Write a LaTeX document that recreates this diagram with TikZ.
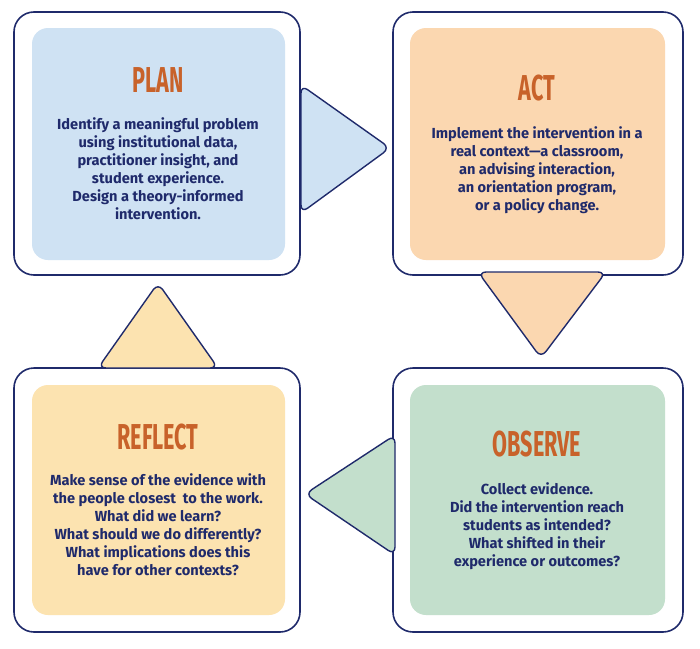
\documentclass[tikz,border=0pt]{standalone}
\usepackage{fontspec}
\setmainfont{Fira Sans}
\definecolor{navy}{HTML}{1F2A6B}
\definecolor{cblue}{HTML}{CFE2F3}
\definecolor{corange}{HTML}{FBD7B0}
\definecolor{cgreen}{HTML}{C3DFCC}
\definecolor{cyellow}{HTML}{FCE3B0}
\definecolor{ctitle}{HTML}{C8622A}
\begin{document}
\begin{tikzpicture}[x=1pt,y=-1pt,
  outer/.style={draw=navy,line width=1.6pt,fill=white,rounded corners=20pt},
  inner/.style={rounded corners=16pt},
  tri/.style={draw=navy,line width=1.4pt,rounded corners=8pt,line join=round},
  ttl/.style={text=ctitle,font=\fontsize{36}{36}\selectfont\bfseries,xscale=0.6,inner sep=0pt},
  body/.style={text=navy,font=\fontsize{14.6}{18}\selectfont\bfseries,align=center,inner sep=0pt}]
\useasboundingbox (0,0) rectangle (700,648);
\draw[outer] (14,12) rectangle (300,275);
\draw[outer] (393,12) rectangle (683,275);
\draw[outer] (14,368) rectangle (300,632);
\draw[outer] (393,368) rectangle (683,632);
\fill[cblue,inner] (32,28) rectangle (285,260);
\fill[corange,inner] (410,28) rectangle (665,260);
\fill[cyellow,inner] (32,385) rectangle (285,615);
\fill[cgreen,inner] (410,385) rectangle (665,615);
\draw[tri,fill=cblue] (301,85) -- (390,148) -- (301,213) -- cycle;
\draw[tri,fill=corange] (478,272) -- (606,272) -- (541,358) -- cycle;
\draw[tri,fill=cgreen] (395,435) -- (395,555) -- (305,494) -- cycle;
\draw[tri,fill=cyellow] (98,368) -- (218,368) -- (158,283) -- cycle;
\node[ttl] (tp) at (158,80) {PLAN};
\node[ttl] (ta) at (537,88) {ACT};
\node[ttl] (tr) at (158,437) {REFLECT};
\node[ttl] (to) at (537,444) {OBSERVE};
\node[body,anchor=north] (bp) at (158,117) {Identify a meaningful problem\\using institutional data,\\practitioner insight, and\\student experience.\\Design a theory-informed\\intervention.};
\node[body,anchor=north] (ba) at (537,126) {Implement the intervention in a\\real context—a classroom,\\an advising interaction,\\an orientation program,\\or a policy change.};
\node[body,anchor=north] (br) at (158,473) {Make sense of the evidence with\\the people closest\ \ to the work.\\What did we learn?\\What should we do differently?\\What implications does this\\have for other contexts?};
\node[body,anchor=north] (bo) at (537,482) {Collect evidence.\\Did the intervention reach\\students as intended?\\What shifted in their\\experience or outcomes?};
\end{tikzpicture}
\end{document}
